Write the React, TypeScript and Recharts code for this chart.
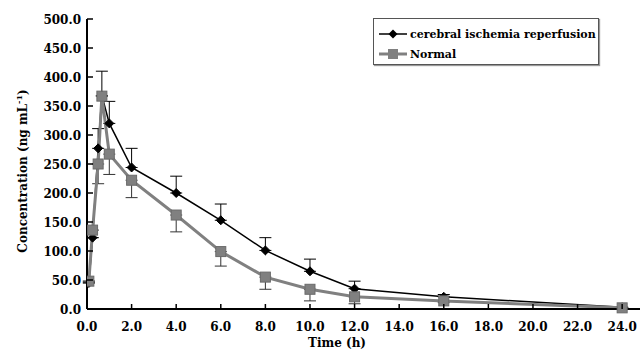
import React from 'react';
import { ComposedChart, Line, XAxis, YAxis, ErrorBar, Legend } from 'recharts';

const times = [0.083, 0.25, 0.5, 0.667, 1, 2, 4, 6, 8, 10, 12, 16, 24];
const cerebral = [45, 123, 277, 368, 320, 244, 200, 153, 101, 65, 35, 21, 3];
const cerebralSD = [0, 0, 34, 42, 38, 33, 29, 28, 22, 21, 13, 4, 0];
const normal = [48, 136, 250, 367, 267, 222, 162, 99, 55, 34, 21, 14, 2];
const normalSD = [0, 0, 34, 0, 35, 30, 29, 25, 21, 20, 12, 3, 0];
const xTicks = [0, 2, 4, 6, 8, 10, 12, 14, 16, 18, 20, 22, 24];
const yTicks = [0, 50, 100, 150, 200, 250, 300, 350, 400, 450, 500];
const seriesNames = ['cerebral ischemia reperfusion', 'Normal'];

const data = times.map((t, i) => ({
  t,
  c: cerebral[i],
  cErr: [0, cerebralSD[i]],
  n: normal[i],
  nErr: [normalSD[i], 0],
}));

const FONT = '"DejaVu Serif", "Liberation Serif", serif';
const GRAY = '#808080';

const Diamond = (props: any) => {
  const { cx, cy } = props;
  if (cx == null || cy == null) return null;
  const r = 4.5;
  return (
    <polygon
      points={`${cx},${cy - r} ${cx + r},${cy} ${cx},${cy + r} ${cx - r},${cy}`}
      fill="#000"
      stroke="#000"
      strokeWidth={1}
    />
  );
};

const Square = (props: any) => {
  const { cx, cy } = props;
  if (cx == null || cy == null) return null;
  const s = 5;
  return <rect x={cx - s} y={cy - s} width={2 * s} height={2 * s} fill={GRAY} stroke="#6a6a6a" strokeWidth={1} />;
};

const YTick = (props: any) => {
  const { x, y, payload } = props;
  return (
    <g>
      <line x1={x + 6} x2={x + 12} y1={y} y2={y} stroke="#000" strokeWidth={1.5} />
      <text x={x} y={y} dy={4.5} textAnchor="end" fontFamily={FONT} fontWeight="bold" fontSize={12} fill="#000">
        {Number(payload.value).toFixed(1)}
      </text>
    </g>
  );
};

const XTick = (props: any) => {
  const { x, y, payload } = props;
  return (
    <g>
      <line x1={x} x2={x} y1={y} y2={y - 5} stroke="#000" strokeWidth={1.5} />
      <text x={x} y={y + 22} textAnchor="middle" fontFamily={FONT} fontWeight="bold" fontSize={12} fill="#000">
        {Number(payload.value).toFixed(1)}
      </text>
    </g>
  );
};

const renderLegend = () => (
  <div
    style={{
      width: 224,
      height: 45,
      border: '1px solid #555',
      boxShadow: '1px 1px 1px #999',
      background: '#fff',
      boxSizing: 'content-box',
      fontFamily: FONT,
      fontWeight: 'bold',
      fontSize: 11,
      color: '#000',
    }}
  >
    <div style={{ display: 'flex', alignItems: 'center', height: 20, marginTop: 5 }}>
      <svg width={36} height={12} style={{ display: 'block' }}>
        <line x1={5} x2={33} y1={6} y2={6} stroke="#000" strokeWidth={1.5} />
        <polygon points="19,1.5 23.5,6 19,10.5 14.5,6" fill="#000" />
      </svg>
      <span>{seriesNames[0]}</span>
    </div>
    <div style={{ display: 'flex', alignItems: 'center', height: 20 }}>
      <svg width={36} height={12} style={{ display: 'block' }}>
        <line x1={5} x2={33} y1={6} y2={6} stroke={GRAY} strokeWidth={3} />
        <rect x={14} y={1} width={10} height={10} fill={GRAY} />
      </svg>
      <span>{seriesNames[1]}</span>
    </div>
  </div>
);

export default function App() {
  return (
    <div style={{ position: 'absolute', left: 0, top: 0, background: '#fff' }}>
      <ComposedChart width={641} height={356} data={data} margin={{ top: 19, right: 1, left: 0, bottom: 17 }}>
        <XAxis
          dataKey="t"
          type="number"
          domain={[0, 24.8]}
          ticks={xTicks}
          interval={0}
          height={30}
          tickSize={0}
          tickMargin={0}
          tick={<XTick />}
          axisLine={{ stroke: '#000', strokeWidth: 2 }}
          tickLine={false}
          allowDataOverflow
          label={{
            content: () => (
              <text x={337} y={347} textAnchor="middle" fontFamily={FONT} fontWeight="bold" fontSize={12} fill="#000">
                Time (h)
              </text>
            ),
          }}
        />
        <YAxis
          type="number"
          domain={[0, 500]}
          ticks={yTicks}
          interval={0}
          width={87}
          tickSize={0}
          tickMargin={6}
          tick={<YTick />}
          axisLine={{ stroke: '#000', strokeWidth: 2 }}
          tickLine={false}
          label={{
            content: () => (
              <text
                x={27}
                y={171}
                transform="rotate(-90, 27, 171)"
                textAnchor="middle"
                fontFamily={FONT}
                fontWeight="bold"
                fontSize={12}
                fill="#000"
              >
                Concentration (ng mL
                <tspan fontSize={8} dy={-5}>-1</tspan>
                <tspan dy={5}>)</tspan>
              </text>
            ),
          }}
        />
        <Legend
          layout="vertical"
          align="center"
          verticalAlign="middle"
          content={renderLegend}
          wrapperStyle={{ position: 'absolute', left: 373, top: 18, width: 'auto', height: 'auto' }}
        />
        <Line
          dataKey="c"
          name={seriesNames[0]}
          stroke="#000"
          strokeWidth={1.5}
          dot={<Diamond />}
          activeDot={false}
          isAnimationActive={false}
        >
          <ErrorBar dataKey="cErr" direction="y" width={6} stroke="#000" strokeWidth={1} />
        </Line>
        <Line
          dataKey="n"
          name={seriesNames[1]}
          stroke={GRAY}
          strokeWidth={3}
          dot={<Square />}
          activeDot={false}
          isAnimationActive={false}
        >
          <ErrorBar dataKey="nErr" direction="y" width={6} stroke="#333" strokeWidth={1} />
        </Line>
      </ComposedChart>
    </div>
  );
}
